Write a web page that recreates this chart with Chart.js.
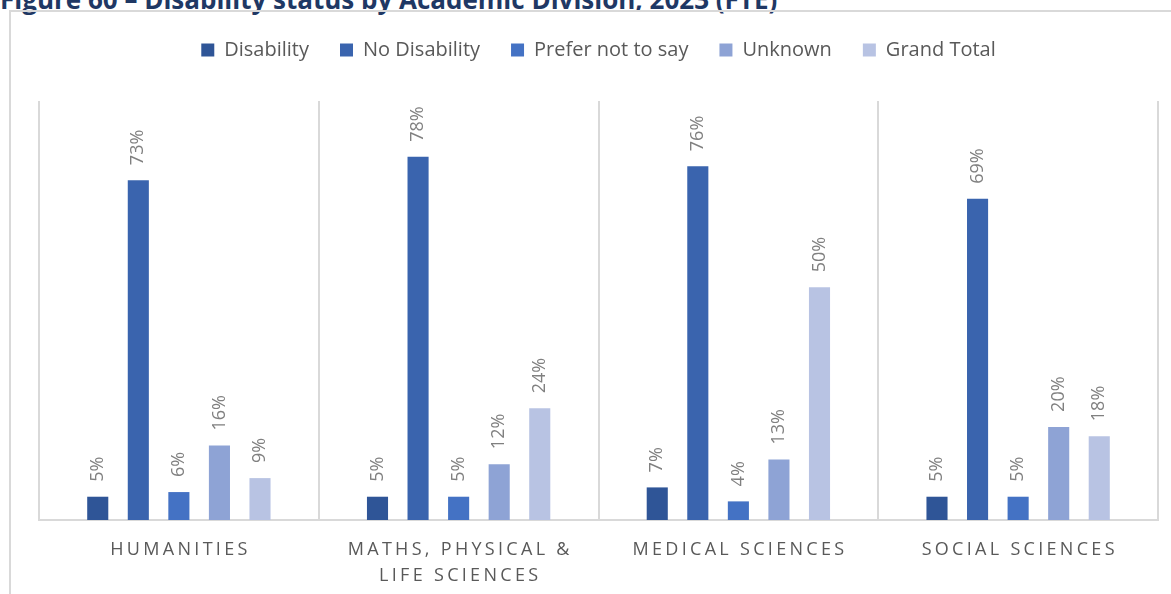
<!DOCTYPE html>
<html>
<head>
<meta charset="utf-8">
<script src="https://cdn.jsdelivr.net/npm/chart.js@4"></script>
<style>
  body { margin: 0; background: #fff; overflow: hidden; }
  #title { position: absolute; left: 0; top: -19px; line-height: 24px; font: bold 26px "Open Sans", sans-serif; color: #1F3864; white-space: nowrap; }
  #frame { position: absolute; left: 9px; top: 10px; width: 1300px; height: 700px; border-left: 2px solid #d9d9d9; border-top: 2px solid #d9d9d9; }
  #chart { position: absolute; left: 0; top: 0; }
</style>
</head>
<body>
<div id="title">Figure 60 – Disability status by Academic Division, 2023 (FTE)</div>
<div id="frame"></div>
<canvas id="chart" width="1171" height="594"></canvas>
<script>
// categories (shown upper case, wrapped like the original)
const categories = [['HUMANITIES'], ['MATHS, PHYSICAL &', 'LIFE SCIENCES'], ['MEDICAL SCIENCES'], ['SOCIAL SCIENCES']];
const seriesNames = ['Disability', 'No Disability', 'Prefer not to say', 'Unknown', 'Grand Total'];
// percent values per series, one per category
const disability = [5, 5, 7, 5];
const noDisability = [73, 78, 76, 69];
const preferNot = [6, 5, 4, 5];
const unknown = [16, 12, 13, 20];
const grandTotal = [9, 24, 50, 18];
const colours = ['#2F5597', '#3A64AE', '#4472C4', '#8EA3D5', '#B8C3E3'];

const seriesData = [disability, noDisability, preferNot, unknown, grandTotal];

// extra room under the legend
const legendGap = {
  id: 'legendGap',
  beforeInit(chart) {
    const fit = chart.legend.fit;
    chart.legend.fit = function () {
      fit.call(this);
      this.height += 31;
    };
  }
};

// labels above bars, rotated
const barLabels = {
  id: 'barLabels',
  afterDatasetsDraw(chart) {
    const ctx = chart.ctx;
    ctx.save();
    ctx.font = '18px "Open Sans", sans-serif';
    ctx.fillStyle = '#808080';
    ctx.textAlign = 'left';
    ctx.textBaseline = 'middle';
    chart.data.datasets.forEach((ds, i) => {
      chart.getDatasetMeta(i).data.forEach((bar, j) => {
        ctx.save();
        ctx.translate(bar.x, bar.y - 15);
        ctx.rotate(-Math.PI / 2);
        ctx.fillText(ds.data[j] + '%', 0, 0);
        ctx.restore();
      });
    });
    ctx.restore();
  }
};

// spaced-out category labels under the axis
const catLabels = {
  id: 'catLabels',
  afterDraw(chart) {
    const ctx = chart.ctx;
    const x = chart.scales.x;
    ctx.save();
    ctx.font = '18px "Open Sans", sans-serif';
    ctx.fillStyle = '#595959';
    ctx.textAlign = 'center';
    ctx.textBaseline = 'middle';
    ctx.letterSpacing = '3.3px';
    categories.forEach((lines, i) => {
      const cx = x.getPixelForValue(i) + 1.6;
      lines.forEach((line, k) => {
        ctx.fillText(line, cx, chart.chartArea.bottom + 30 + k * 26);
      });
    });
    ctx.restore();
  }
};

new Chart(document.getElementById('chart'), {
  type: 'bar',
  data: {
    labels: categories,
    datasets: seriesNames.map((name, i) => ({
      label: name,
      data: seriesData[i],
      backgroundColor: colours[i],
      categoryPercentage: 0.725,
      barPercentage: 0.52
    }))
  },
  options: {
    responsive: false,
    animation: false,
    layout: { padding: { left: 39, right: 13, top: 9, bottom: 74 } },
    plugins: {
      legend: {
        position: 'top',
        labels: {
          boxWidth: 13,
          boxHeight: 13,
          padding: 31,
          color: '#595959',
          font: { family: '"Open Sans", sans-serif', size: 20 }
        }
      },
      tooltip: { enabled: false }
    },
    scales: {
      x: {
        grid: { offset: true, color: '#d9d9d9', lineWidth: 2, drawTicks: false },
        border: { color: '#d9d9d9', width: 2 },
        ticks: { display: false }
      },
      y: {
        display: false,
        min: 0,
        max: 90
      }
    }
  },
  plugins: [legendGap, barLabels, catLabels]
});
</script>
</body>
</html>
